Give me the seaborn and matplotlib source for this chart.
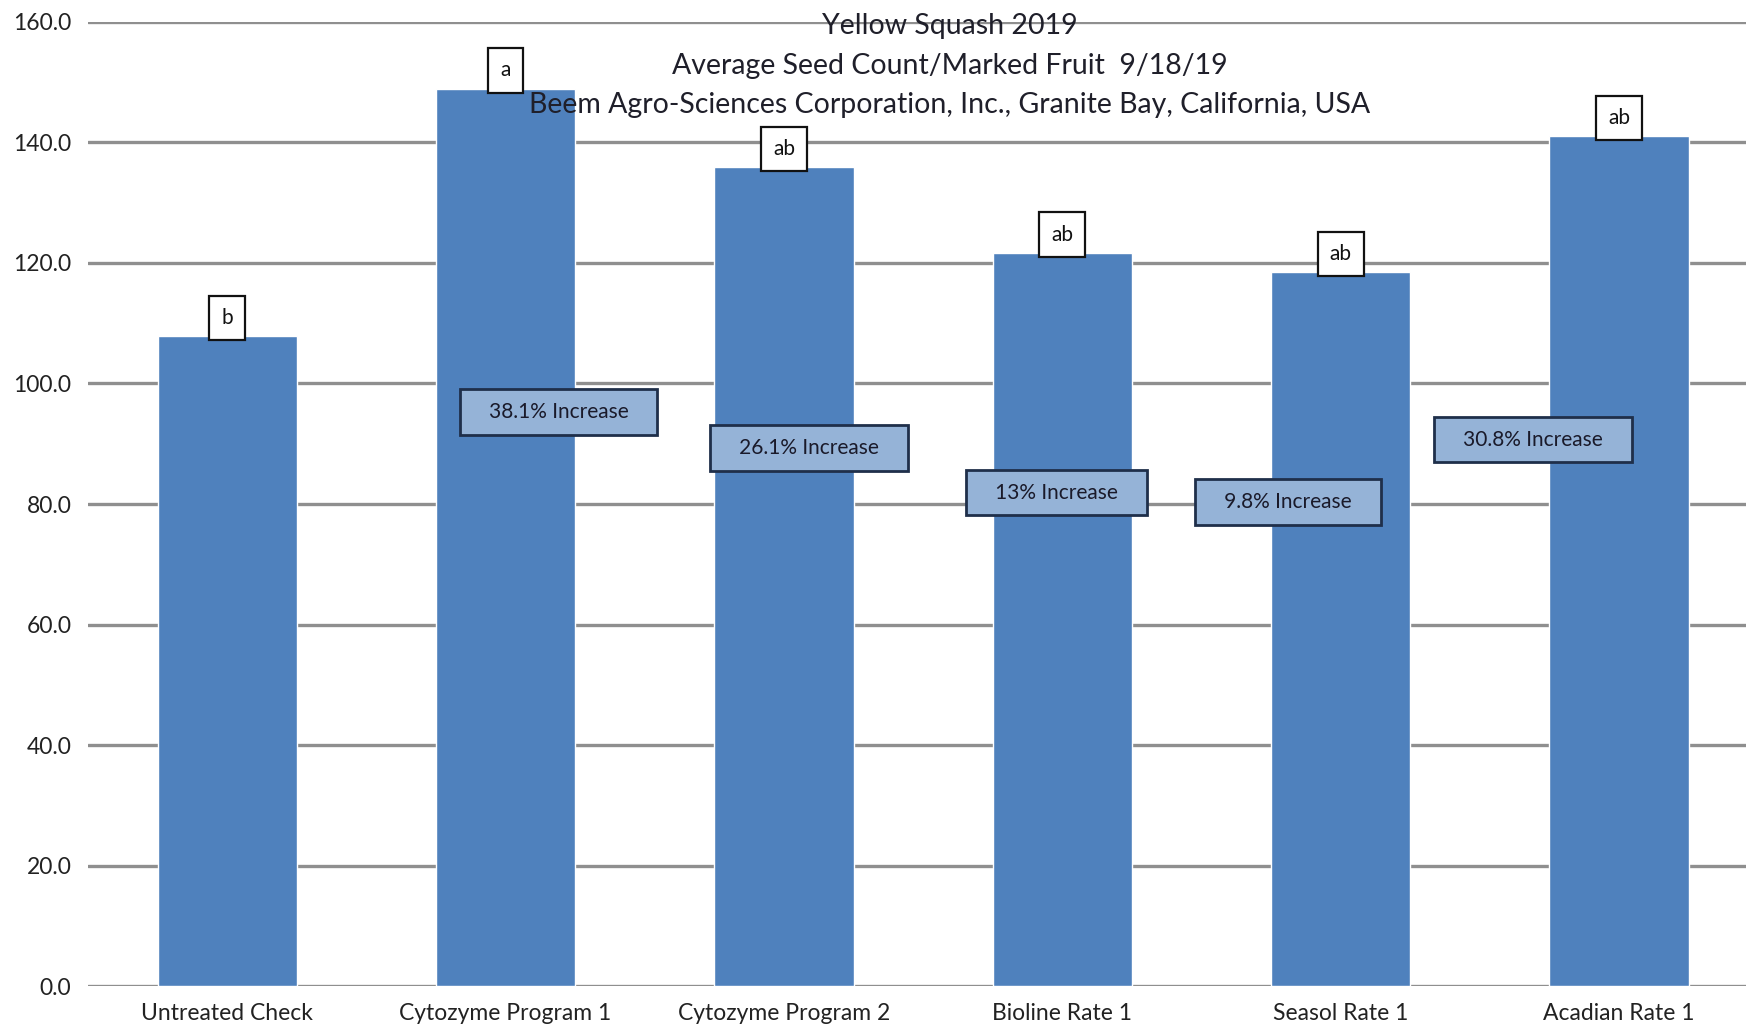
import matplotlib
matplotlib.use("Agg")
import matplotlib.pyplot as plt
import seaborn as sns
import pandas as pd

categories = ["Untreated Check", "Cytozyme Program 1", "Cytozyme Program 2",
              "Bioline Rate 1", "Seasol Rate 1", "Acadian Rate 1"]
values = [107.8, 148.9, 135.9, 121.7, 118.4, 141.0]
letters = ["b", "a", "ab", "ab", "ab", "ab"]
increase_labels = ["38.1% Increase", "26.1% Increase", "13% Increase",
                   "9.8% Increase", "30.8% Increase"]
# label box placement (data coords) for the increase call-outs
increase_x = [1.19, 2.09, 2.98, 3.81, 4.69]
increase_y = [95.2, 89.3, 81.9, 80.4, 90.7]
yticks = [0, 20, 40, 60, 80, 100, 120, 140, 160]
title_lines = ["Yellow Squash 2019",
               "Average Seed Count/Marked Fruit  9/18/19",
               "Beem Agro-Sciences Corporation, Inc., Granite Bay, California, USA"]

sns.set_style("white")
plt.rcParams["font.family"] = ["Lato", "DejaVu Sans"]

df = pd.DataFrame({"cat": categories, "val": values})

fig = plt.figure(figsize=(17.46, 10.28), dpi=100)
ax = fig.add_axes([88 / 1746, 0.0404, 1 - 88 / 1746, 0.979 - 0.0404])

sns.barplot(data=df, x="cat", y="val", color="#4F81BD", saturation=1,
            width=0.5, ax=ax, zorder=2)

ax.set_xlim(-0.5, 5.456)
ax.set_ylim(0, 160)
ax.set_yticks(yticks)
ax.set_yticklabels([f"{v:.1f}" for v in yticks], fontsize=16.5, color="#222222")
ax.yaxis.grid(True, color="#8f8f8f", linewidth=2.4, zorder=0)
ax.set_axisbelow(True)
ax.tick_params(axis="y", length=0, pad=12)
ax.tick_params(axis="x", length=0, pad=12, labelsize=16.5, labelcolor="#222222")
ax.set_xlabel("")
ax.set_ylabel("")
for s in ax.spines.values():
    s.set_visible(False)

# significance letters above bars
for i, (v, l) in enumerate(zip(values, letters)):
    ax.annotate(l, xy=(i, v), xytext=(0, 13), textcoords="offset points",
                ha="center", va="center", fontsize=15, color="#111111",
                bbox=dict(boxstyle="square,pad=0.58", fc="white", ec="#111111", lw=1.6),
                zorder=5)

# increase call-outs
for x, y, t in zip(increase_x, increase_y, increase_labels):
    ax.text(x, y, "   " + t + "   ", ha="center", va="center", fontsize=15,
            color="#1a1a2a",
            bbox=dict(boxstyle="square,pad=0.62", fc="#95B3D7", ec="#1F2F4A", lw=2),
            zorder=6)

title_y = [1 - 26 / 1028, 1 - 66 / 1028, 1 - 105 / 1028]
for ty, t in zip(title_y, title_lines):
    fig.text(0.544, ty, t, ha="center", va="center", fontsize=20.5, color="#1f1f2a")

fig.savefig("out.png", dpi=100)
